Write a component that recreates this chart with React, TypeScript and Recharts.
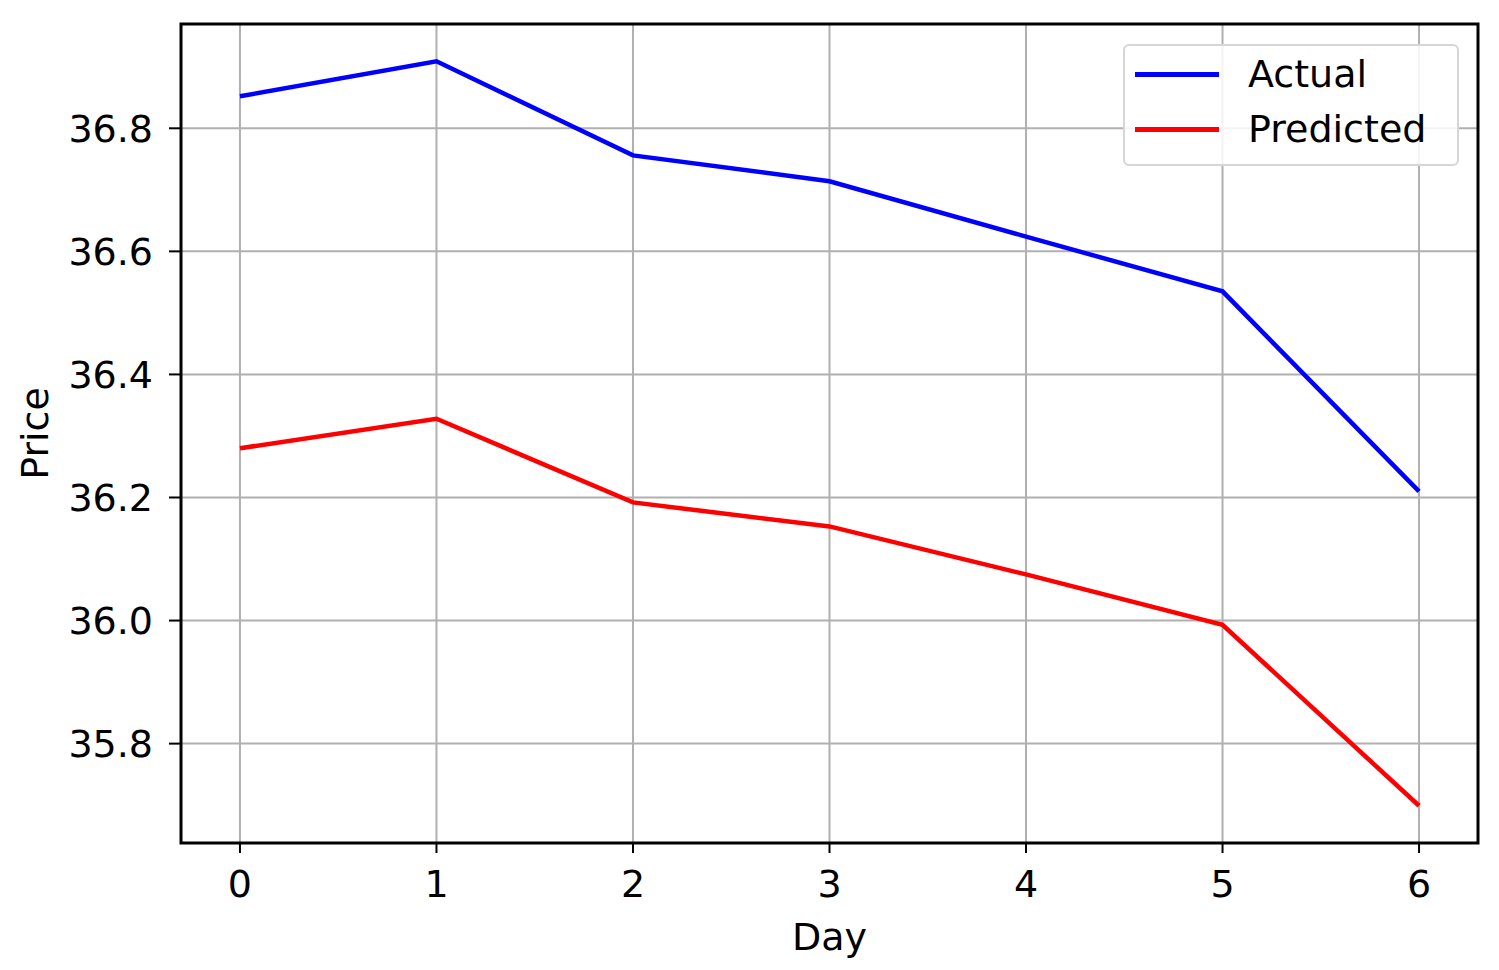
import { LineChart, Line, XAxis, YAxis, CartesianGrid, ReferenceArea, Label } from "recharts";

const days = [0, 1, 2, 3, 4, 5, 6];
const actual = [36.852, 36.909, 36.756, 36.714, 36.624, 36.535, 36.21];
const predicted = [36.28, 36.328, 36.192, 36.153, 36.075, 35.993, 35.699];
const xTicks = [0, 1, 2, 3, 4, 5, 6];
const yTicks = [35.8, 36.0, 36.2, 36.4, 36.6, 36.8];

const X_DOMAIN: [number, number] = [-0.3, 6.3];
const Y_DOMAIN: [number, number] = [35.6385, 36.9695];

const FONT = "'DejaVu Sans', sans-serif";

const data = days.map((d, i) => ({ day: d, actual: actual[i], predicted: predicted[i] }));

const legendItems = [
  { name: "Actual", color: "#0000ff" },
  { name: "Predicted", color: "#ff0000" },
];

// matplotlib-style legend box, placed over the top right of the plot
function LegendBox() {
  return (
    <div
      style={{
        position: "absolute",
        left: 1123,
        top: 44,
        width: 332,
        height: 118,
        border: "2px solid #d6d6d6",
        borderRadius: 6,
        background: "rgba(255,255,255,0.85)",
        fontFamily: FONT,
        fontSize: 38,
        color: "#000",
      }}
    >
      {legendItems.map((item, i) => (
        <div key={item.name} style={{ position: "absolute", left: 0, top: 6 + i * 55, height: 44, display: "flex", alignItems: "center" }}>
          <div style={{ marginLeft: 10, width: 84, height: 5, background: item.color }} />
          <span style={{ marginLeft: 29, lineHeight: "44px" }}>{item.name}</span>
        </div>
      ))}
    </div>
  );
}

export default function App() {
  return (
    <div style={{ position: "absolute", left: 0, top: 0, width: 1499, height: 970, background: "#fff" }}>
      <LineChart width={1499} height={970} data={data} margin={{ top: 24, right: 21, left: 0, bottom: 0 }}>
        <CartesianGrid stroke="#b0b0b0" strokeWidth={2} />
        <XAxis
          dataKey="day"
          type="number"
          domain={X_DOMAIN}
          ticks={xTicks}
          allowDataOverflow
          height={127}
          axisLine={false}
          tickSize={10}
          tickMargin={17}
          tickLine={{ stroke: "#000", strokeWidth: 2 }}
          tick={{ fill: "#000", fontSize: 38, fontFamily: FONT }}
        >
          <Label value="Day" position="insideBottom" offset={20} style={{ fill: "#000", fontSize: 38, fontFamily: FONT }} />
        </XAxis>
        <YAxis
          type="number"
          domain={Y_DOMAIN}
          ticks={yTicks}
          allowDataOverflow
          width={181}
          axisLine={false}
          tickSize={12}
          tickMargin={16}
          tickLine={{ stroke: "#000", strokeWidth: 2 }}
          tickFormatter={(v: number) => v.toFixed(1)}
          tick={{ fill: "#000", fontSize: 38, fontFamily: FONT }}
        >
          <Label
            content={(props: any) => {
              const vb = props.viewBox || { x: 0, y: 0, height: 0 };
              const cx = 35;
              const cy = vb.y + vb.height / 2;
              return (
                <text x={cx} y={cy} transform={`rotate(-90, ${cx}, ${cy})`} textAnchor="middle" dominantBaseline="central" fill="#000" fontSize={38} fontFamily={FONT}>
                  Price
                </text>
              );
            }}
          />
        </YAxis>
        <Line type="linear" dataKey="actual" name="Actual" stroke="#0000ff" strokeWidth={4.5} dot={false} isAnimationActive={false} />
        <Line type="linear" dataKey="predicted" name="Predicted" stroke="#ff0000" strokeWidth={4.5} dot={false} isAnimationActive={false} />
        <ReferenceArea x1={X_DOMAIN[0]} x2={X_DOMAIN[1]} y1={Y_DOMAIN[0]} y2={Y_DOMAIN[1]} fill="none" stroke="#000" strokeWidth={3} ifOverflow="visible" />
      </LineChart>
      <LegendBox />
    </div>
  );
}
